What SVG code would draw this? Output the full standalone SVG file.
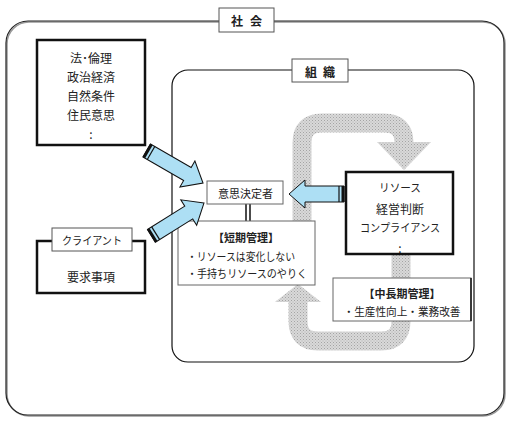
<svg xmlns="http://www.w3.org/2000/svg" width="511" height="422" viewBox="0 0 511 422">
<style>
text{font-family:"Noto Sans CJK JP","Noto Sans CJK SC",sans-serif;fill:#222;dominant-baseline:central}
.c{text-anchor:middle}
.b{font-weight:bold}
.t12{font-size:12px}
.t11{font-size:11px}
.sp{letter-spacing:7px}
.lbl{fill:#fff;stroke:#555;stroke-width:1}
.thick{fill:#fff;stroke:#111;stroke-width:2.5}
.thin{fill:#fff;stroke:#666;stroke-width:1}
.band{fill:none;stroke:url(#dots);stroke-width:19}
.blue{fill:#addff4;stroke:#111;stroke-width:1}
.tail{stroke:#111;stroke-width:3}
.tail2{stroke:#111;stroke-width:1.2}
</style>
<defs>
<pattern id="dots" width="3" height="3" patternUnits="userSpaceOnUse">
<rect width="3" height="3" fill="#d9d9d9"/>
<rect x="0" y="0" width="1" height="1" fill="#a4a4a4"/>
<rect x="1.5" y="1.5" width="1" height="1" fill="#b4b4b4"/>
</pattern>
</defs>

<g id="society">
<rect x="7" y="22" width="498" height="394" rx="22" fill="none" stroke="#999" stroke-width="1.5"/>
<rect x="6" y="21" width="498" height="394" rx="22" fill="none" stroke="#222" stroke-width="1.2"/>
<rect class="lbl" x="219" y="8" width="55" height="24"/>
<text class="b t12" x="231" y="20"><tspan>社</tspan><tspan x="250">会</tspan></text>
</g>

<g id="organization">
<rect x="172" y="70" width="302" height="292" rx="16" fill="#fff" stroke="#111" stroke-width="1.2"/>
<rect class="lbl" x="292" y="59" width="56" height="23"/>
<text class="b t12" x="305" y="70.5"><tspan>組</tspan><tspan x="323">織</tspan></text>
</g>

<g id="connectors">
<g id="loop-top">
<path class="band" d="M302,285 V143 Q302,123 322,123 H384 Q404,123 404,143 V143"/>
<polygon points="377,142 431,142 404,170" fill="url(#dots)"/>
</g>
<g id="loop-bottom">
<path class="band" d="M401,254 V321 Q401,341 381,341 H318 Q298,341 298,321 V301"/>
<polygon points="275,302 321,302 298,284" fill="url(#dots)"/>
</g>
</g>

<g id="law">
<rect class="thick" x="37" y="40" width="108" height="105"/>
<text class="c t12" x="91" y="57">法･倫理</text>
<text class="c t12" x="91" y="76">政治経済</text>
<text class="c t12" x="91" y="95">自然条件</text>
<text class="c t12" x="91" y="114">住民意思</text>
<text class="c t12" x="91" y="133">:</text>
</g>

<g id="client">
<rect class="thick" x="37" y="241" width="108" height="52"/>
<rect class="lbl" x="52" y="228" width="80" height="23"/>
<text class="c t11" x="92" y="239.5" textLength="60" lengthAdjust="spacingAndGlyphs">クライアント</text>
<text class="c t12" x="91" y="276">要求事項</text>
</g>

<g id="resource">
<rect class="thick" x="346" y="172" width="107" height="82"/>
<text class="c t11" x="400" y="187" textLength="42" lengthAdjust="spacingAndGlyphs">リソース</text>
<text class="c t12" x="400" y="208">経営判断</text>
<text class="c t11" x="400" y="227" textLength="80" lengthAdjust="spacingAndGlyphs">コンプライアンス</text>
<text class="c t12" x="400" y="247">:</text>
</g>

<g id="decision">
<line x1="246" y1="204" x2="246" y2="221" stroke="#111" stroke-width="1.5"/>
<line x1="250" y1="204" x2="250" y2="221" stroke="#111" stroke-width="1.5"/>
<rect class="thin" x="207" y="181" width="76" height="23"/>
<text class="c t11" x="245.5" y="193">意思決定者</text>
</g>

<g id="short-term">
<rect class="thin" x="178" y="221" width="137" height="64"/>
<text class="c b t11" x="246" y="237">【短期管理】</text>
<text class="t11" x="187" y="256" textLength="108" lengthAdjust="spacingAndGlyphs">・リソースは変化しない</text>
<text class="t11" x="187" y="273" textLength="120" lengthAdjust="spacingAndGlyphs">・手持ちリソースのやりく</text>
</g>

<g id="mid-long-term">
<rect class="thin" x="333" y="278" width="138" height="43"/>
<line x1="471" y1="278" x2="471" y2="321" stroke="#111" stroke-width="1.5"/>
<text class="c b t11" x="402" y="293">【中長期管理】</text>
<text class="c t11" x="402" y="311" textLength="117" lengthAdjust="spacingAndGlyphs">・生産性向上・業務改善</text>
</g>

<g id="arrows">
<g transform="translate(203,183) rotate(30)">
<path class="blue" d="M0,0 L-18,-15 L-18,-7.5 L-65,-7.5 L-65,7.5 L-18,7.5 L-18,15 Z"/>
<line class="tail" x1="-64" y1="-7.5" x2="-64" y2="7.5"/>
<line class="tail2" x1="-60" y1="-7.5" x2="-60" y2="7.5"/>
</g>
<g transform="translate(204,203) rotate(-32)">
<path class="blue" d="M0,0 L-18,-15 L-18,-7.5 L-62,-7.5 L-62,7.5 L-18,7.5 L-18,15 Z"/>
<line class="tail" x1="-61" y1="-7.5" x2="-61" y2="7.5"/>
<line class="tail2" x1="-57" y1="-7.5" x2="-57" y2="7.5"/>
</g>
<g transform="translate(289,194) rotate(180)">
<path class="blue" d="M0,0 L-16,-14 L-16,-8 L-55,-8 L-55,8 L-16,8 L-16,14 Z"/>
<line class="tail" x1="-54" y1="-8" x2="-54" y2="8"/>
<line class="tail2" x1="-50" y1="-8" x2="-50" y2="8"/>
</g>
</g>
</svg>
